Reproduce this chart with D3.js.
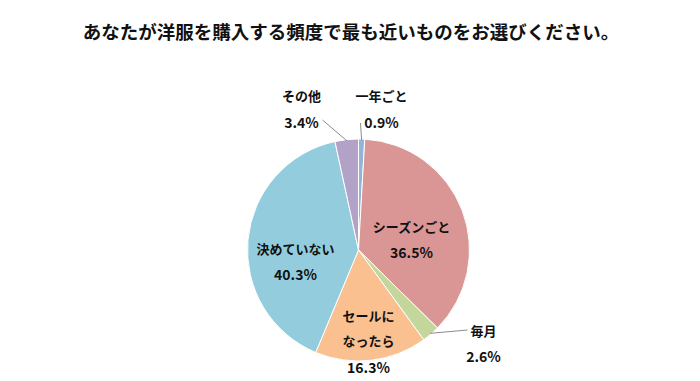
<!DOCTYPE html>
<html>
<head>
<meta charset="utf-8">
<title>洋服を購入する頻度</title>
<script src="https://cdn.jsdelivr.net/npm/d3@7"></script>
<style>
    body{ margin:0; background:#fff; }
    svg text{ font-family:"Noto Sans CJK JP","Noto Sans",sans-serif; font-weight:bold; fill:#111; }
</style>
</head>
<body>
<div id="chart"></div>
<script>
// data, clockwise from 12 o'clock
var categories = ["一年ごと", "シーズンごと", "毎月", "セールになったら", "決めていない", "その他"];
var values = [0.9, 36.5, 2.6, 16.3, 40.3, 3.4];
var colors = ["#95b3d7", "#d99694", "#c3d69b", "#fac090", "#93cddd", "#b3a2c7"];
var titleText = "あなたが洋服を購入する頻度で最も近いものをお選びください。";

var width = 700, height = 381;
var cx = 358.5, cy = 250, r = 111;

var svg = d3.select("#chart").append("svg")
    .attr("width", width)
    .attr("height", height);

svg.append("text")
    .attr("x", 351)
    .attr("y", 39)
    .attr("text-anchor", "middle")
    .attr("font-size", "18.5px")
    .text(titleText);

var pie = d3.pie().sort(null).value(function(d){ return d; });
var arcs = pie(values);
var arc = d3.arc().innerRadius(0).outerRadius(r);

var g = svg.append("g").attr("transform", "translate(" + cx + "," + cy + ")");

g.selectAll("path")
    .data(arcs)
    .enter()
    .append("path")
    .attr("d", arc)
    .attr("fill", function(d, i){ return colors[i]; })
    .attr("stroke", "#fff")
    .attr("stroke-width", 1);

// label placement relative to centre
var labelPos = [
    {x: 23, lines: ["一年ごと"], y: -154, py: -127},
    {x: 53, lines: ["シーズンごと"], y: -23, py: 3},
    {x: 125, lines: ["毎月"], y: 81, py: 107},
    {x: 10, lines: ["セールに", "なったら"], y: 66, py: 118},
    {x: -63, lines: ["決めていない"], y: -1, py: 25},
    {x: -57, lines: ["その他"], y: -154, py: -127}
];

var fmt = d3.format(".1f");

arcs.forEach(function(d, i){
    var p = labelPos[i];
    p.lines.forEach(function(line, k){
        g.append("text")
            .attr("x", p.x)
            .attr("y", p.y + k * 25)
            .attr("dy", "0.35em")
            .attr("text-anchor", "middle")
            .attr("font-size", "13px")
            .text(line);
    });
    g.append("text")
        .attr("x", p.x)
        .attr("y", p.py)
        .attr("dy", "0.35em")
        .attr("text-anchor", "middle")
        .attr("font-size", "14px")
        .text(fmt(values[i]) + "%");
});

// leader lines for the small outside slices
function edgePoint(d, k){
    var a = (d.startAngle + d.endAngle) / 2;
    return [Math.sin(a) * r * k, -Math.cos(a) * r * k];
}
var leaders = [
    {i: 0, to: [2, -127]},
    {i: 2, to: [109, 80]},
    {i: 5, to: [-36, -130]}
];
leaders.forEach(function(l){
    var p = edgePoint(arcs[l.i], 0.99);
    g.append("line")
        .attr("x1", p[0]).attr("y1", p[1])
        .attr("x2", l.to[0]).attr("y2", l.to[1])
        .attr("stroke", "#8c8c8c")
        .attr("stroke-width", 1);
});
</script>
</body>
</html>
